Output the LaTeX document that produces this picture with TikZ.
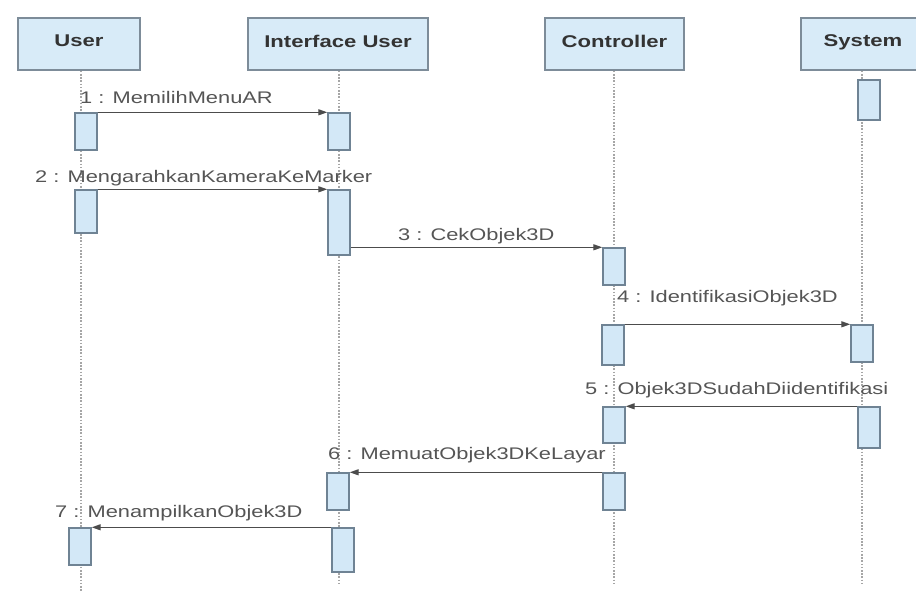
\documentclass[tikz,border=0pt]{standalone}
\usepackage{fontspec}
\setmainfont[FakeStretch=1.3]{Liberation Sans}
\usetikzlibrary{arrows.meta,calc}
\definecolor{hfill}{HTML}{D8EBF8}
\definecolor{hdraw}{HTML}{7D8C99}
\definecolor{afill}{HTML}{D3E8F7}
\definecolor{adraw}{HTML}{6F8394}
\definecolor{ltext}{HTML}{555555}
\definecolor{htext}{HTML}{333333}
\begin{document}
\begin{tikzpicture}[x=1pt,y=-1pt,
  head/.style={draw=hdraw,fill=hfill,line width=1.6pt,minimum height=52pt,inner sep=0pt,
    font=\fontsize{17}{18}\selectfont\bfseries,text=htext},
  act/.style={draw=adraw,fill=afill,line width=1.4pt,minimum width=22pt,inner sep=0pt},
  life/.style={draw=gray!70,line width=1.3pt,dash pattern=on 1.6pt off 1.6pt},
  msg/.style={draw=black!70,line width=1.3pt,-{Triangle[length=9pt,width=6pt]}},
  lbl/.style={anchor=west,inner sep=0pt,font=\fontsize{16.8}{18}\selectfont,text=ltext}]
\useasboundingbox (0,0) rectangle (916,591);
% headers
\node[head,minimum width=122pt] (hU) at (79,44) {\raisebox{6pt}{User}};
\node[head,minimum width=180pt] (hI) at (338,44) {\raisebox{6pt}{Interface User}};
\node[head,minimum width=139pt] (hC) at (614.5,44) {\raisebox{6pt}{Controller}};
\node[head,minimum width=124pt] (hS) at (863,44) {\raisebox{6pt}{System}};
% lifeline ends
\coordinate (eU) at (81,591);
\coordinate (eI) at (339,585);
\coordinate (eC) at (614,585);
\coordinate (eS) at (862,585);
\draw[life] (hU.south -| eU) -- (eU);
\draw[life] (hI.south -| eI) -- (eI);
\draw[life] (hC.south -| eC) -- (eC);
\draw[life] (hS.south -| eS) -- (eS);
% activations
\node[act,minimum height=37pt] (u1) at (86,131.5) {};
\node[act,minimum height=43pt] (u2) at (86,211.5) {};
\node[act,minimum height=37pt] (u3) at (80,546.5) {};
\node[act,minimum height=37pt] (i1) at (339,131.5) {};
\node[act,minimum height=65pt] (i2) at (339,222.5) {};
\node[act,minimum height=37pt] (i3) at (338,491.5) {};
\node[act,minimum height=44pt] (i4) at (343,550) {};
\node[act,minimum height=37pt] (c1) at (614,266.5) {};
\node[act,minimum height=40pt] (c2) at (613,345) {};
\node[act,minimum height=36pt] (c3) at (614,425) {};
\node[act,minimum height=37pt] (c4) at (614,491.5) {};
\node[act,minimum height=40pt] (s1) at (869,100) {};
\node[act,minimum height=37pt] (s2) at (862,343.5) {};
\node[act,minimum height=41pt] (s3) at (869,427.5) {};
% messages
\draw[msg] (u1.north east) -- (i1.north west);
\draw[msg] (u2.north east) -- (i2.north west);
\draw[msg] (i2.east |- c1.north) -- (c1.north west);
\draw[msg] (c2.north east) -- (s2.north west);
\draw[msg] (s3.north west) -- (c3.north east);
\draw[msg] (c4.north west) -- (i3.north east);
\draw[msg] (i4.north west) -- (u3.north east);
% labels
\node[lbl] (l1) at (80,97) {1 : MemilihMenuAR};
\node[lbl] (l2) at (35,178) {2 : MengarahkanKameraKeMarker};
\node[lbl] (l3) at (398,236) {3 : CekObjek3D};
\node[lbl] (l4) at (617,298) {4 : IdentifikasiObjek3D};
\node[lbl] (l5) at (585,390) {5 : Objek3DSudahDiidentifikasi};
\node[lbl] (l6) at (328,455) {6 : MemuatObjek3DKeLayar};
\node[lbl] (l7) at (55,513) {7 : MenampilkanObjek3D};
\end{tikzpicture}
\end{document}
